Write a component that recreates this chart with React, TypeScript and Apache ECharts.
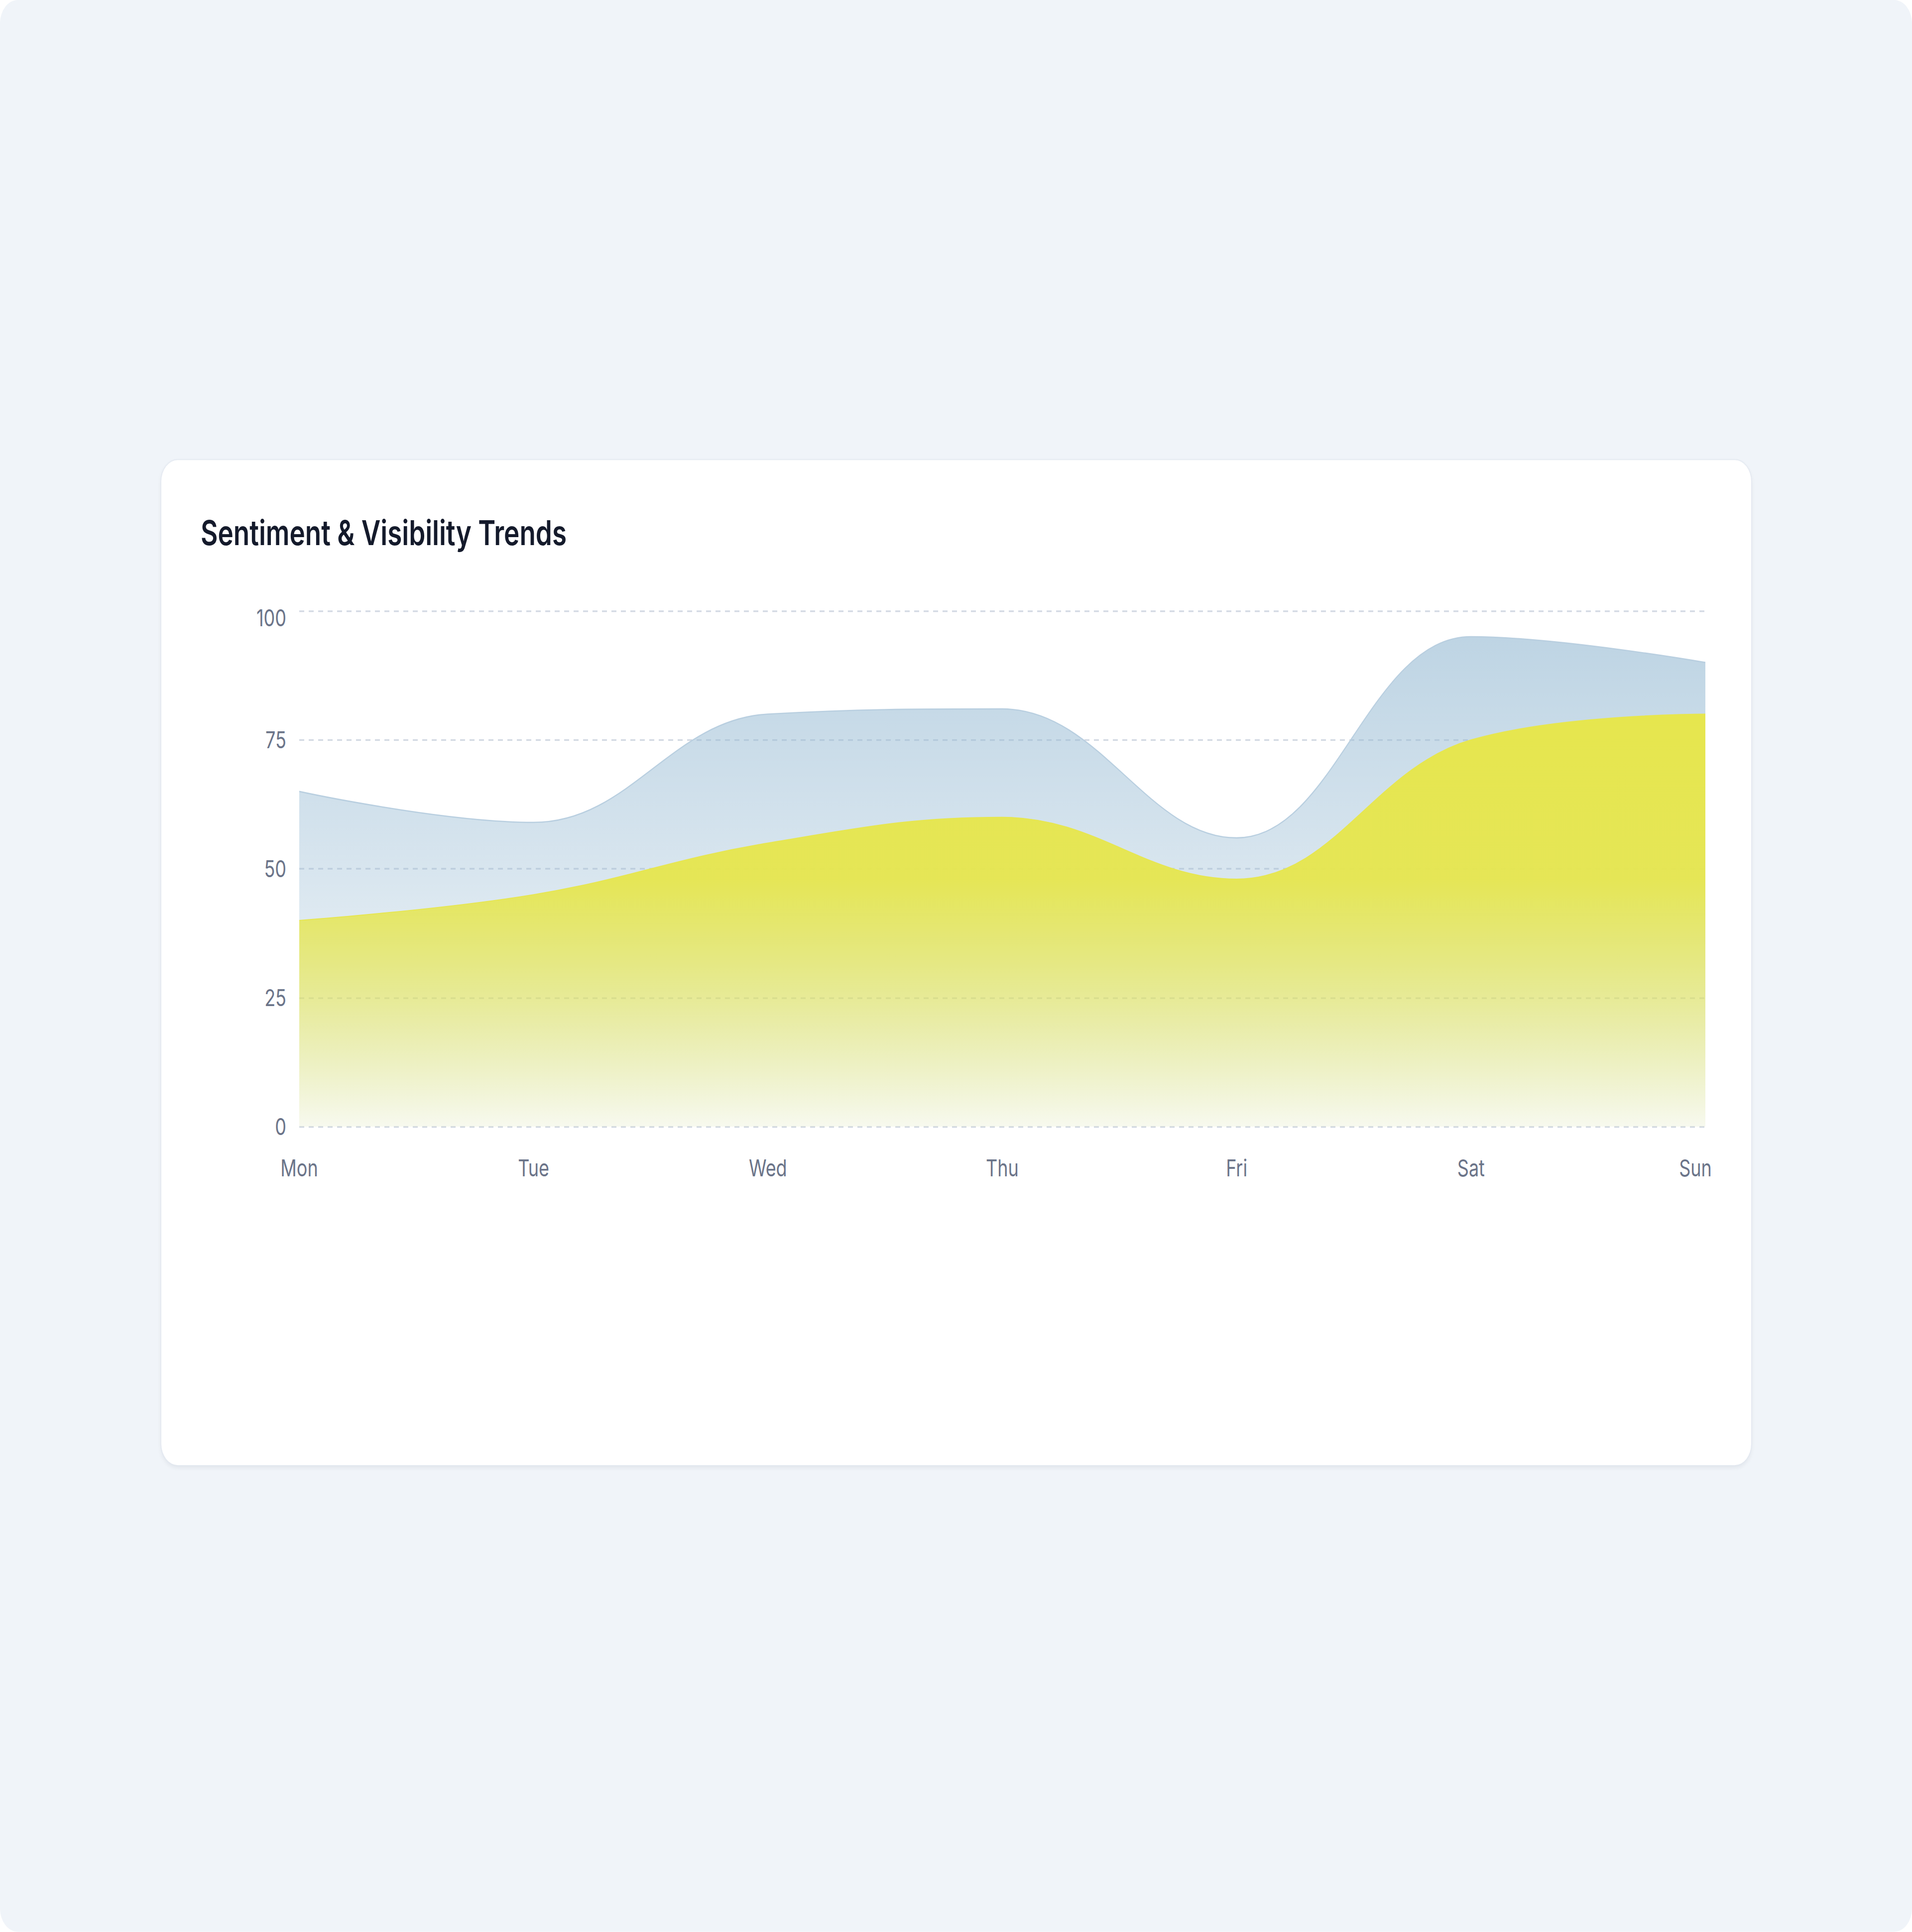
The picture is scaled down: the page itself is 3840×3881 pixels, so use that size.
import React, { useEffect, useRef } from "react";
import * as echarts from "echarts";

const days = ["Mon", "Tue", "Wed", "Thu", "Fri", "Sat", "Sun"];
const visibility = [65, 59, 80, 81, 56, 95, 90];
const sentiment = [40, 45, 55, 60, 48, 75, 80];
const yMin = 0;
const yMax = 100;
const yStep = 25;
const titleText = "Sentiment & Visibility Trends";

const K = 1.3; // vertical stretch of the reference
const PAGE_W = 3840;
const PAGE_H = 3881 / K;
const CARD_L = 324;
const CARD_T = 924 / K;
const CARD_W = 3193;
const CARD_H = 2019 / K;

const LABEL_COLOR = "#6b7489";
const FONT = "Inter, 'Noto Sans', sans-serif";

export default function App() {
  const ref = useRef<HTMLDivElement>(null);

  useEffect(() => {
    if (!ref.current) return;
    const chart = echarts.init(ref.current, null, { renderer: "svg" });
    const gridTop = 1227 / K - CARD_T;
    const gridBottomY = 2263 / K - CARD_T;
    const lastDay = days[days.length - 1];
    chart.setOption({
      animation: false,
      textStyle: { fontFamily: FONT },
      graphic: [
        {
          type: "text",
          x: 79,
          y: 1069 / K - CARD_T,
          style: {
            text: titleText,
            fontFamily: FONT,
            fontWeight: 600,
            fontSize: 53,
            fill: "#141a2b",
            align: "left",
            verticalAlign: "middle",
          },
        },
      ],
      grid: {
        left: 601 - CARD_L,
        top: gridTop,
        width: 3425 - 601,
        height: gridBottomY - gridTop,
        containLabel: false,
      },
      xAxis: {
        type: "category",
        data: days,
        boundaryGap: false,
        axisLine: { show: false },
        axisTick: { show: false },
        splitLine: { show: false },
        axisLabel: {
          fontFamily: FONT,
          fontSize: 36,
          color: LABEL_COLOR,
          margin: 46,
          formatter: (v: string) => (v === lastDay ? `{last|${v}}` : v),
          rich: {
            last: {
              fontFamily: FONT,
              fontSize: 36,
              color: LABEL_COLOR,
              padding: [0, 40, 0, 0],
            },
          },
        },
      },
      yAxis: {
        type: "value",
        min: yMin,
        max: yMax,
        interval: yStep,
        axisLine: { show: false },
        axisTick: { show: false },
        axisLabel: {
          fontFamily: FONT,
          fontSize: 36,
          color: LABEL_COLOR,
          margin: 26,
          formatter: (v: number) => (v === yMax ? `{top|${v}}` : `${v}`),
          rich: {
            top: {
              fontFamily: FONT,
              fontSize: 36,
              color: LABEL_COLOR,
              padding: [22, 0, 0, 0],
            },
          },
        },
        splitLine: {
          show: true,
          lineStyle: { color: "#d3d9e3", width: 2.5, type: [10, 9] },
        },
      },
      series: [
        {
          name: "Visibility",
          type: "line",
          data: visibility,
          smooth: 0.4,
          symbol: "none",
          showSymbol: false,
          lineStyle: { color: "#b9cfe0", width: 2 },
          areaStyle: {
            opacity: 1,
            color: new echarts.graphic.LinearGradient(0, 0, 0, 1, [
              { offset: 0, color: "rgba(150,186,211,0.62)" },
              { offset: 0.5, color: "rgba(150,186,211,0.36)" },
              { offset: 1, color: "rgba(150,186,211,0.06)" },
            ]),
          },
          z: 2,
        },
        {
          name: "Sentiment",
          type: "line",
          data: sentiment,
          smooth: 0.4,
          symbol: "none",
          showSymbol: false,
          lineStyle: { color: "#e6e651", width: 1.5 },
          areaStyle: {
            opacity: 1,
            color: new echarts.graphic.LinearGradient(0, 0, 0, 1, [
              { offset: 0, color: "rgba(230,230,78,1)" },
              { offset: 0.4, color: "rgba(230,230,78,0.95)" },
              { offset: 0.7, color: "rgba(230,230,78,0.55)" },
              { offset: 1, color: "rgba(230,230,78,0.08)" },
            ]),
          },
          z: 3,
        },
      ],
    });
    return () => chart.dispose();
  }, []);

  return (
    <div
      style={{
        position: "fixed",
        left: 0,
        top: 0,
        width: PAGE_W,
        height: PAGE_H,
        transform: `scaleY(${K})`,
        transformOrigin: "0 0",
        background: "#ffffff",
      }}
    >
      <div
        style={{
          position: "absolute",
          inset: 0,
          background: "#f0f4f9",
          borderRadius: 36,
        }}
      >
        <div
          style={{
            position: "absolute",
            left: CARD_L,
            top: CARD_T,
            width: CARD_W,
            height: CARD_H,
            background: "#ffffff",
            borderRadius: 33,
            boxShadow:
              "0 0 0 2px rgba(226,232,240,0.55), 0 3px 8px rgba(15,23,42,0.07)",
          }}
        >
          <div
            ref={ref}
            style={{ position: "absolute", left: 0, top: 0, width: CARD_W, height: CARD_H }}
          />
        </div>
      </div>
    </div>
  );
}
